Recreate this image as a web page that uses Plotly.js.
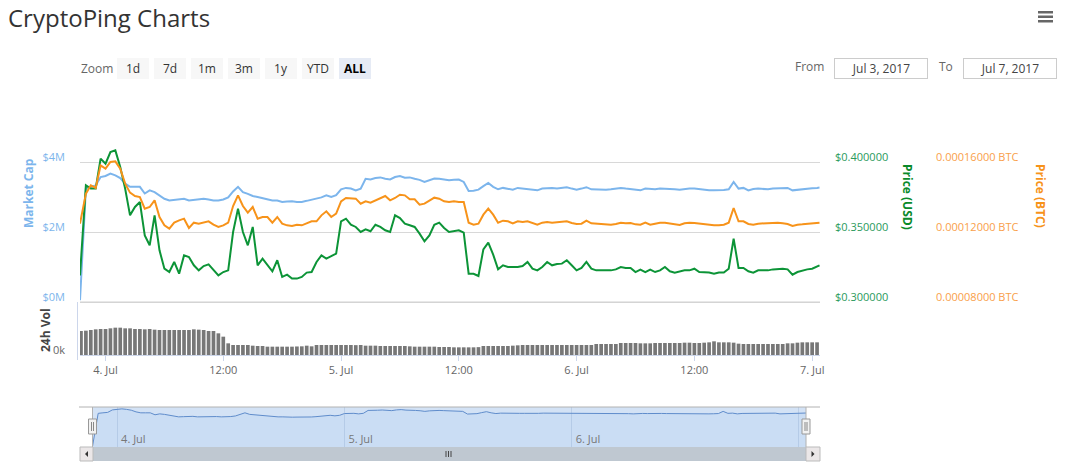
<!DOCTYPE html>
<html>
<head>
<meta charset="utf-8">
<script src="https://cdn.plot.ly/plotly-3.0.1.min.js"></script>
<style>
html,body{margin:0;padding:0;background:#fff;}
#chart{width:1075px;height:469px;}
</style>
</head>
<body>
<div id="chart"></div>
<script>
// ---------------- data ----------------
const marketCapM = [0.05,3.24,3.29,3.33,3.57,3.60,3.67,3.62,3.54,3.38,
 3.29,3.29,3.29,3.10,3.19,3.14,3.05,2.95,2.90,2.92,
 2.95,2.95,2.90,2.92,2.93,2.95,2.93,2.90,2.90,2.93,
 2.99,3.16,3.29,3.14,3.09,3.03,3.00,2.97,2.93,2.90,
 2.90,2.86,2.87,2.88,2.86,2.86,2.89,2.92,2.95,2.99,
 3.05,3.00,3.05,3.22,3.26,3.24,3.19,3.24,3.52,3.50,
 3.54,3.56,3.52,3.50,3.57,3.60,3.55,3.56,3.52,3.49,
 3.43,3.48,3.53,3.52,3.50,3.48,3.49,3.50,3.43,3.17,
 3.18,3.21,3.31,3.40,3.29,3.22,3.26,3.24,3.21,3.26,
 3.24,3.24,3.22,3.19,3.24,3.26,3.26,3.24,3.27,3.28,
 3.24,3.21,3.24,3.28,3.22,3.21,3.21,3.21,3.22,3.24,
 3.26,3.24,3.22,3.21,3.19,3.24,3.23,3.22,3.24,3.24,
 3.23,3.22,3.21,3.23,3.24,3.24,3.22,3.21,3.19,3.19,
 3.19,3.20,3.22,3.43,3.24,3.26,3.19,3.23,3.24,3.23,
 3.22,3.24,3.24,3.24,3.26,3.19,3.21,3.22,3.24,3.25,
 3.26,3.27];

const priceUSD = [0.3190,0.3833,0.3810,0.3810,0.4024,0.3988,0.4071,0.4083,0.3964,0.3810,
 0.3619,0.3679,0.3714,0.3476,0.3405,0.3619,0.3369,0.3238,0.3214,0.3286,
 0.3202,0.3333,0.3321,0.3262,0.3226,0.3257,0.3269,0.3226,0.3190,0.3214,
 0.3226,0.3500,0.3667,0.3500,0.3405,0.3536,0.3262,0.3310,0.3262,0.3219,
 0.3298,0.3179,0.3195,0.3167,0.3167,0.3179,0.3210,0.3214,0.3286,0.3333,
 0.3310,0.3329,0.3345,0.3576,0.3595,0.3552,0.3536,0.3500,0.3519,0.3505,
 0.3552,0.3536,0.3512,0.3500,0.3619,0.3600,0.3560,0.3548,0.3536,0.3488,
 0.3433,0.3476,0.3552,0.3567,0.3529,0.3500,0.3505,0.3512,0.3495,0.3202,
 0.3202,0.3186,0.3376,0.3424,0.3338,0.3233,0.3262,0.3250,0.3250,0.3250,
 0.3257,0.3286,0.3238,0.3226,0.3250,0.3286,0.3262,0.3271,0.3274,0.3298,
 0.3262,0.3226,0.3243,0.3286,0.3238,0.3226,0.3226,0.3226,0.3226,0.3233,
 0.3250,0.3243,0.3243,0.3214,0.3231,0.3214,0.3231,0.3214,0.3226,0.3250,
 0.3219,0.3210,0.3219,0.3226,0.3226,0.3238,0.3214,0.3214,0.3210,0.3202,
 0.3210,0.3210,0.3238,0.3452,0.3243,0.3243,0.3219,0.3210,0.3226,0.3226,
 0.3226,0.3233,0.3238,0.3238,0.3233,0.3195,0.3214,0.3226,0.3233,0.3238,
 0.3257,0.3262];

const priceBTC = [1.2476e-4,1.4190e-4,1.4667e-4,1.4514e-4,1.5810e-4,1.5619e-4,1.6000e-4,1.6038e-4,1.5619e-4,1.4762e-4,
 1.4248e-4,1.4057e-4,1.4000e-4,1.3333e-4,1.3429e-4,1.3810e-4,1.2857e-4,1.2381e-4,1.2190e-4,1.2533e-4,
 1.2667e-4,1.2762e-4,1.2229e-4,1.2533e-4,1.2476e-4,1.2533e-4,1.2610e-4,1.2419e-4,1.2286e-4,1.2381e-4,
 1.2533e-4,1.3486e-4,1.4095e-4,1.3486e-4,1.3105e-4,1.3429e-4,1.2762e-4,1.2857e-4,1.2857e-4,1.2533e-4,
 1.2857e-4,1.2476e-4,1.2381e-4,1.2343e-4,1.2419e-4,1.2381e-4,1.2476e-4,1.2610e-4,1.2610e-4,1.2952e-4,
 1.3181e-4,1.2857e-4,1.3048e-4,1.3752e-4,1.3943e-4,1.3905e-4,1.3905e-4,1.3619e-4,1.3752e-4,1.3676e-4,
 1.3810e-4,1.3905e-4,1.4057e-4,1.3810e-4,1.3943e-4,1.4133e-4,1.4095e-4,1.3867e-4,1.3867e-4,1.3562e-4,
 1.3619e-4,1.3790e-4,1.3962e-4,1.3905e-4,1.3752e-4,1.3714e-4,1.3752e-4,1.3714e-4,1.3714e-4,1.2533e-4,
 1.2419e-4,1.2476e-4,1.2990e-4,1.3333e-4,1.2990e-4,1.2533e-4,1.2648e-4,1.2610e-4,1.2495e-4,1.2610e-4,
 1.2571e-4,1.2610e-4,1.2533e-4,1.2419e-4,1.2533e-4,1.2571e-4,1.2533e-4,1.2571e-4,1.2610e-4,1.2610e-4,
 1.2514e-4,1.2457e-4,1.2476e-4,1.2648e-4,1.2495e-4,1.2476e-4,1.2457e-4,1.2438e-4,1.2419e-4,1.2457e-4,
 1.2533e-4,1.2495e-4,1.2514e-4,1.2438e-4,1.2419e-4,1.2533e-4,1.2419e-4,1.2476e-4,1.2533e-4,1.2533e-4,
 1.2476e-4,1.2438e-4,1.2400e-4,1.2495e-4,1.2533e-4,1.2514e-4,1.2476e-4,1.2419e-4,1.2381e-4,1.2381e-4,
 1.2381e-4,1.2419e-4,1.2533e-4,1.3371e-4,1.2610e-4,1.2610e-4,1.2457e-4,1.2419e-4,1.2476e-4,1.2495e-4,
 1.2514e-4,1.2514e-4,1.2533e-4,1.2495e-4,1.2457e-4,1.2343e-4,1.2419e-4,1.2438e-4,1.2476e-4,1.2514e-4,
 1.2533e-4,1.2533e-4];

const volumeK = [360,365,375,385,390,390,400,410,410,400,400,390,390,385,390,380,375,375,375,375,
 375,375,375,385,380,375,360,360,325,275,175,150,150,150,150,140,135,135,
 125,125,125,125,125,125,128,130,140,130,150,150,150,150,150,150,150,150,148,150,
 140,140,140,135,135,135,135,135,135,130,125,125,125,125,125,120,120,120,
 115,115,115,115,115,118,135,135,135,135,135,135,140,145,
 150,150,150,150,150,150,150,150,150,150,150,150,150,150,150,
 165,165,165,165,165,180,180,180,180,
 175,175,175,180,180,180,180,180,180,185,185,180,180,185,190,205,190,190,190,185,170,
 165,165,165,165,165,165,165,165,165,175,175,185,190,190,190,190];

const xTickVals = ['2017-07-04 00:00','2017-07-04 12:00','2017-07-05 00:00','2017-07-05 12:00','2017-07-06 00:00','2017-07-06 12:00','2017-07-07 00:00'];
const xTickText = ['4. Jul','12:00','5. Jul','12:00','6. Jul','12:00','7. Jul'];
const navTickVals = ['2017-07-04 00:00','2017-07-05 00:00','2017-07-06 00:00','2017-07-07 00:00'];
const navTickText = ['4. Jul','5. Jul','6. Jul','7. Jul'];
const capTickVals = [0, 2, 4];
const capTickText = ['$0M', '$2M', '$4M'];
const usdTickVals = [0.30, 0.35, 0.40];
const usdTickText = ['$0.300000', '$0.350000', '$0.400000'];
const btcTickVals = [0.00008, 0.00012, 0.00016];
const btcTickText = ['0.00008000 BTC', '0.00012000 BTC', '0.00016000 BTC'];
const volTickVals = [0];
const volTickText = ['0k'];
const zoomButtons = ['1d','7d','1m','3m','1y','YTD','ALL'];
const fromDate = 'Jul 3, 2017';
const toDate = 'Jul 7, 2017';

// time axis (half-hour sampling)
function seq(startIso, stepMin, n){
  const t0 = Date.parse(startIso + ':00Z'); const out = [];
  for (let i = 0; i < n; i++){ out.push(new Date(t0 + i*stepMin*60000).toISOString().slice(0,16).replace('T',' ')); }
  return out;
}
const priceTimes = ['2017-07-03 21:24'].concat(seq('2017-07-03T22:00',30,150)).concat(['2017-07-07 00:45']);
const volTimes = seq('2017-07-03T21:30',30,151);

// ---------------- layout helpers ----------------
const W = 1075, H = 469;
const px = x => x / W;
const py = y => 1 - y / H;
const FONT = 'Open Sans, DejaVu Sans, sans-serif';

const traces = [
  {x: priceTimes, y: marketCapM, xaxis:'x', yaxis:'y', type:'scatter', mode:'lines', line:{color:'#7cb5ec', width:2}, hoverinfo:'skip'},
  {x: priceTimes, y: priceBTC, xaxis:'x', yaxis:'y3', type:'scatter', mode:'lines', line:{color:'#f7931a', width:2}, hoverinfo:'skip'},
  {x: priceTimes, y: priceUSD, xaxis:'x', yaxis:'y2', type:'scatter', mode:'lines', line:{color:'#0c9437', width:2}, hoverinfo:'skip'},
  {x: volTimes, y: volumeK, xaxis:'x', yaxis:'y4', type:'bar', marker:{color:'#777777', line:{width:0}}, hoverinfo:'skip'},
  {x: priceTimes, y: marketCapM, xaxis:'x2', yaxis:'y5', type:'scatter', mode:'lines', line:{color:'#5f8ccb', width:1}, fill:'tozeroy', fillcolor:'rgba(124,181,236,0.10)', hoverinfo:'skip'}
];

const shapes = [];
const annotations = [];
function rect(x0,y0,x1,y1,fill,lineColor,lw,layer){
  shapes.push({type:'rect', xref:'paper', yref:'paper', x0:px(x0), x1:px(x1), y0:py(y1), y1:py(y0), fillcolor:fill, line:{color:lineColor||fill, width:lw||0}, layer:layer||'above'});
}
function line(x0,y0,x1,y1,color,w){
  shapes.push({type:'line', xref:'paper', yref:'paper', x0:px(x0), x1:px(x1), y0:py(y0), y1:py(y1), line:{color:color, width:w||1}});
}
function path(pts, fill){
  const d = pts.map((p,i)=>(i?'L':'M')+px(p[0])+','+py(p[1])).join(' ')+' Z';
  shapes.push({type:'path', xref:'paper', yref:'paper', path:d, fillcolor:fill, line:{width:0}});
}

// navigator mask
shapes.push({type:'rect', xref:'x2 domain', yref:'y5 domain', x0:0, x1:1, y0:0, y1:1, fillcolor:'#d3e2f5', line:{width:0}, layer:'below'});
// navigator outline
line(79,407,820,407,'#b2b2b2',1);
line(92.5,407,92.5,447,'#b2b2b2',1);
line(806,407,806,447,'#b2b2b2',1);
// scrollbar
rect(93,447,806,461,'#bfc8d1');
rect(80,447,93,461,'#ebe7e8','#bbbbbb',1);
rect(806,447,820,461,'#ebe7e8','#bbbbbb',1);
path([[88,451],[85,454],[88,457]],'#333');
path([[811.5,451],[814.5,454],[811.5,457]],'#333');
line(446,451,446,457,'#444',1); line(448.5,451,448.5,457,'#444',1); line(451,451,451,457,'#444',1);
// navigator handles
rect(88.5,419,96.5,434,'#f2f2f2','#999999',1);
line(91.5,422,91.5,431,'#888',1); line(93.5,422,93.5,431,'#888',1);
rect(802,419,810,434,'#f2f2f2','#999999',1);
line(805,422,805,431,'#888',1); line(807,422,807,431,'#888',1);
// volume axis line
line(77.5,302,77.5,360,'#ccd6eb',1);
// main panel bottom line
line(80,302,820,302,'#d0d0d0',1);
// hamburger menu
rect(1038,11,1053,13.5,'#666'); rect(1038,15.5,1053,18,'#666'); rect(1038,20,1053,22.5,'#666');

// title
annotations.push({text:'CryptoPing Charts', xref:'paper', yref:'paper', x:px(6), y:py(17), xanchor:'left', yanchor:'middle', showarrow:false, font:{family:FONT, size:24, color:'#333'}});
// zoom
annotations.push({text:'Zoom', xref:'paper', yref:'paper', x:px(79), y:py(68), xanchor:'left', yanchor:'middle', showarrow:false, font:{family:FONT, size:12, color:'#666'}});
zoomButtons.forEach((b,i)=>{
  const cx = 133 + i*37;
  const sel = b === 'ALL';
  annotations.push({text: sel ? '<b>'+b+'</b>' : b, xref:'paper', yref:'paper', x:px(cx), y:py(68), xanchor:'center', yanchor:'middle', showarrow:false,
    width:32, height:21, bgcolor: sel ? '#e6ebf5' : '#f7f7f7', borderpad:0, borderwidth:0,
    font:{family:FONT, size:12, color: sel ? '#000' : '#333'}});
});
annotations.push({text:'From', xref:'paper', yref:'paper', x:px(826), y:py(67), xanchor:'right', yanchor:'middle', showarrow:false, font:{family:FONT, size:12, color:'#666'}});
annotations.push({text:fromDate, xref:'paper', yref:'paper', x:px(880.5), y:py(68), xanchor:'center', yanchor:'middle', showarrow:false,
  width:92, height:19, bgcolor:'#fff', bordercolor:'#cccccc', borderwidth:1, borderpad:0, font:{family:FONT, size:12, color:'#444'}});
annotations.push({text:'To', xref:'paper', yref:'paper', x:px(946), y:py(67), xanchor:'center', yanchor:'middle', showarrow:false, font:{family:FONT, size:12, color:'#666'}});
annotations.push({text:toDate, xref:'paper', yref:'paper', x:px(1009.5), y:py(68), xanchor:'center', yanchor:'middle', showarrow:false,
  width:92, height:19, bgcolor:'#fff', bordercolor:'#cccccc', borderwidth:1, borderpad:0, font:{family:FONT, size:12, color:'#444'}});
// axis titles
annotations.push({text:'<b>Market Cap</b>', xref:'paper', yref:'paper', x:px(28), y:py(193), textangle:-90, xanchor:'center', yanchor:'middle', showarrow:false, font:{family:FONT, size:12, color:'#7cb5ec'}});
annotations.push({text:'<b>24h Vol</b>', xref:'paper', yref:'paper', x:px(45), y:py(330), textangle:-90, xanchor:'center', yanchor:'middle', showarrow:false, font:{family:FONT, size:12, color:'#444'}});
annotations.push({text:'<b>Price (USD)</b>', xref:'paper', yref:'paper', x:px(908), y:py(197), textangle:90, xanchor:'center', yanchor:'middle', showarrow:false, font:{family:FONT, size:12, color:'#0a8a2a'}});
annotations.push({text:'<b>Price (BTC)</b>', xref:'paper', yref:'paper', x:px(1041), y:py(196), textangle:90, xanchor:'center', yanchor:'middle', showarrow:false, font:{family:FONT, size:12, color:'#f7931a'}});

const mainDom = [py(304), py(140)];
const layout = {
  width: W, height: H,
  margin:{l:0, r:0, t:0, b:0},
  paper_bgcolor:'#fff', plot_bgcolor:'rgba(0,0,0,0)',
  showlegend:false,
  font:{family:FONT, size:11, color:'#666'},
  bargap:0.25,
  xaxis:{domain:[px(80), px(820)], anchor:'y4', type:'date', range:['2017-07-03 21:24','2017-07-07 00:48'],
    tickmode:'array', tickvals:xTickVals, ticktext:xTickText, showgrid:false, zeroline:false, showline:true, linecolor:'#ccd6eb', linewidth:1,
    ticks:'outside', ticklen:5, tickcolor:'#ccd6eb', tickfont:{family:FONT, size:11, color:'#666'}},
  yaxis:{domain:mainDom, anchor:'x', range:[-2/35, 162/35], tickmode:'array', tickvals:capTickVals, ticktext:capTickText,
    showgrid:true, gridcolor:'#d8d8d8', gridwidth:1, zeroline:false, showline:false, ticks:'',
    ticklabelstandoff:14, ticklabelshift:-5, tickfont:{family:FONT, size:11, color:'#7cb5ec'}},
  yaxis2:{overlaying:'y', side:'right', anchor:'x', range:[0.3 - 2/1400, 0.3 + 162/1400], tickmode:'array', tickvals:usdTickVals, ticktext:usdTickText,
    showgrid:false, zeroline:false, showline:false, ticks:'',
    ticklabelstandoff:14, ticklabelshift:-5, tickfont:{family:FONT, size:11, color:'#2a9a5c'}},
  yaxis3:{overlaying:'y', side:'right', anchor:'free', position:px(935), range:[0.00008 - 2/1750000, 0.00008 + 162/1750000],
    tickmode:'array', tickvals:btcTickVals, ticktext:btcTickText, showgrid:false, zeroline:false, showline:false, ticks:'',
    ticklabelstandoff:0, ticklabelshift:-5, tickfont:{family:FONT, size:11, color:'#f9a04a'}},
  yaxis4:{domain:[py(355), py(305)], anchor:'x', range:[0,750], tickmode:'array', tickvals:volTickVals, ticktext:volTickText, showgrid:false, zeroline:false,
    showline:false, ticks:'', ticklabelstandoff:14, ticklabelshift:-5, tickfont:{family:FONT, size:11, color:'#666'}},
  xaxis2:{domain:[px(92.5), px(806)], anchor:'y5', type:'date', range:['2017-07-03 21:24','2017-07-07 00:45'],
    tickmode:'array', tickvals:navTickVals, ticktext:navTickText, ticklabelposition:'inside right', ticklabelshift:4, ticklabelstandoff:-4, ticks:'', showgrid:true, gridcolor:'rgba(120,150,190,0.25)',
    zeroline:false, showline:false, tickfont:{family:FONT, size:11, color:'#777'}},
  yaxis5:{domain:[py(447), py(407)], anchor:'x2', range:[0,3.85], showticklabels:false, showgrid:false, zeroline:false, showline:false, ticks:''},
  shapes: shapes,
  annotations: annotations
};

Plotly.newPlot('chart', traces, layout, {displayModeBar:false, staticPlot:true});
</script>
</body>
</html>
